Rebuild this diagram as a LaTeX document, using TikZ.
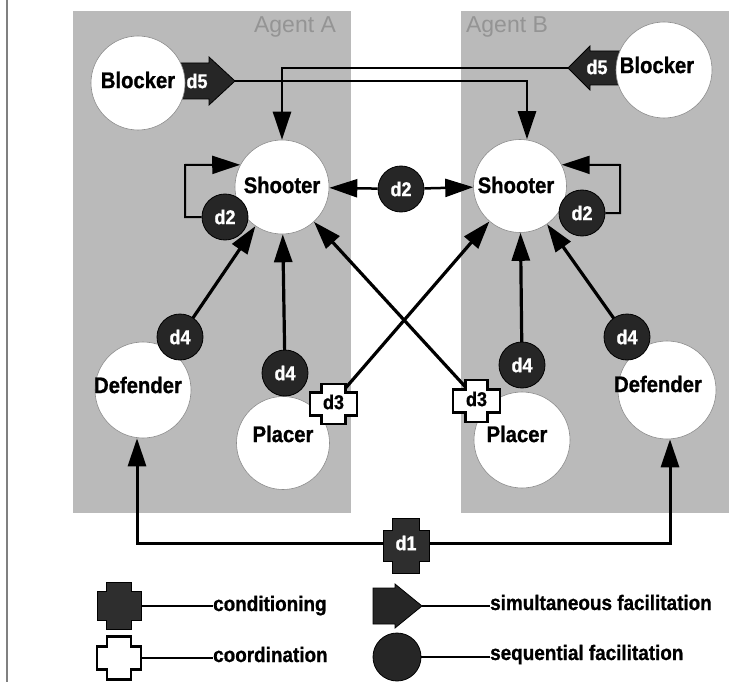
\documentclass[tikz,border=0pt]{standalone}
\usepackage{fontspec}
\newfontfamily\dfont{Liberation Sans}[FakeStretch=0.9,FakeBold=1]
\newfontfamily\agentfont{Liberation Sans}
\usetikzlibrary{arrows.meta}

\pgfdeclarelayer{panels}
\pgfdeclarelayer{wires}
\pgfsetlayers{panels,wires,main}

% plus-shaped marker: style, centre x, centre y, half width, half height,
% half width of the upright bar, half height of the cross bar
\newcommand\plusshape[7]{%
  \draw[#1] ({#2-#6},{#3-#5}) -- ({#2+#6},{#3-#5}) -- ({#2+#6},{#3-#7})
    -- ({#2+#4},{#3-#7}) -- ({#2+#4},{#3+#7}) -- ({#2+#6},{#3+#7})
    -- ({#2+#6},{#3+#5}) -- ({#2-#6},{#3+#5}) -- ({#2-#6},{#3+#7})
    -- ({#2-#4},{#3+#7}) -- ({#2-#4},{#3-#7}) -- ({#2-#6},{#3-#7}) -- cycle;}

\begin{document}
\begin{tikzpicture}[x=1pt,y=-1pt,
  panel/.style={fill=black!27, draw=none},
  agent/.style={font=\agentfont\fontsize{23}{24}\selectfont, text=black!42, inner sep=0pt},
  role/.style={circle, fill=white, draw=black!45, line width=0.6pt, inner sep=0pt},
  rolelabel/.style={font=\dfont\bfseries\fontsize{22.5}{24}\selectfont, inner sep=0pt},
  seqmark/.style={circle, fill=black!85, draw=black, line width=0.8pt, minimum size=46pt,
    inner sep=0pt, text=white, font=\dfont\bfseries\fontsize{20}{21}\selectfont},
  darkplus/.style={fill=black!82, draw=black, line width=1pt},
  whiteplus/.style={fill=white, draw=black, line width=2.2pt},
  simshape/.style={fill=black!85, draw=black, line width=0.8pt},
  plustext/.style={rectangle, inner sep=0pt, font=\dfont\bfseries\fontsize{20}{21}\selectfont},
  tip/.style={-{Triangle[length=28pt,width=18pt]}},
  link/.style={tip, line width=3.2pt},
  toplink/.style={tip, line width=2.6pt},
  looplink/.style={tip, line width=2pt},
  midlink/.style={tip, line width=2.5pt},
  legline/.style={line width=2pt},
  legtext/.style={font=\dfont\bfseries\fontsize{21}{23}\selectfont, inner sep=0pt, anchor=base west}
]
\useasboundingbox (0,0) rectangle (734,682);

% page rule at the left
\draw[black!50, line width=1.2pt] (7,0) -- (7,682);

% agent panels
\begin{pgfonlayer}{panels}
  \fill[panel] (73,11) rectangle (351,513);
  \fill[panel] (461,11) rectangle (729,513);
\end{pgfonlayer}
\node[agent] (agA) at (295,27) {Agent A};
\node[agent] (agB) at (507,27) {Agent B};

% simultaneous facilitation arrows of the blockers
\draw[simshape] (176,63) -- (209,63) -- (209,57) -- (235,81) -- (209,105) -- (209,99) -- (176,99) -- cycle;
\coordinate (d5aTip) at (235,81);
\draw[simshape] (632,51) -- (590,51) -- (590,46) -- (568,68) -- (590,90) -- (590,85) -- (632,85) -- cycle;
\coordinate (d5bTip) at (568,68);

% roles
\node[role, minimum size=94pt] (bA) at (138,83) {};
\node[role, minimum size=94pt] (sA) at (282,187) {};
\node[role, minimum size=96pt] (dA) at (143,390) {};
\node[role, minimum size=93pt] (pA) at (283,443) {};
\node[role, minimum size=96pt] (bB) at (664,70) {};
\node[role, minimum size=93pt] (sB) at (520,186) {};
\node[role, minimum size=96pt] (pB) at (522,440) {};
\node[role, minimum size=98pt] (dB) at (667,390) {};

\node[rolelabel] (bAl) at (138,80) {Blocker};
\node[rolelabel] (sAl) at (282,185) {Shooter};
\node[rolelabel] (dAl) at (138,385) {Defender};
\node[rolelabel] (pAl) at (283,434) {Placer};
\node[rolelabel] (bBl) at (657,65) {Blocker};
\node[rolelabel] (sBl) at (516,185) {Shooter};
\node[rolelabel] (pBl) at (517,434) {Placer};
\node[rolelabel] (dBl) at (658,384) {Defender};

% d5 labels on the arrows
\node[plustext, text=white] (d5a) at (197,81) {d5};
\node[plustext, text=white] (d5b) at (597,67) {d5};

% sequential facilitation markers
\node[seqmark] (d2a) at (225,217) {d2};
\node[seqmark] (d2m) at (401,189) {d2};
\node[seqmark] (d2b) at (582,213) {d2};
\node[seqmark] (d4a) at (180,337) {d4};
\node[seqmark] (d4p) at (285,373) {d4};
\node[seqmark] (d4q) at (522,365) {d4};
\node[seqmark] (d4b) at (627,337) {d4};

% coordination markers
\plusshape{whiteplus}{333.5}{404}{23.5}{20}{12}{11.5}
\node[plustext, minimum width=47pt, minimum height=40pt] (d3a) at (333.5,402) {d3};
\plusshape{whiteplus}{476.5}{401}{23.5}{21}{11}{11.5}
\node[plustext, minimum width=47pt, minimum height=42pt] (d3b) at (476.5,399) {d3};

% conditioning marker
\plusshape{darkplus}{406}{546}{23}{27.5}{13.5}{15.5}
\node[plustext, text=white, minimum width=46pt, minimum height=55pt] (d1) at (406,543) {d1};

% connectors
\begin{pgfonlayer}{wires}
  \draw[toplink] (d5aTip) -| ([xshift=7pt]sB.north);
  \draw[toplink] (d5bTip) -| (sA.north);
  \coordinate (loopA) at (185,165);
  \coordinate (loopB) at (620,165);
  \draw[looplink] (d2a.west) -| (loopA) -- (sA.152);
  \draw[looplink] (d2b.east) -| (loopB) -- (sB.27);
  \draw[midlink] (d2m) -- (sA);
  \draw[midlink] (d2m) -- (sB);
  \draw[link] (d4a.center) -- (sA);
  \draw[link] (d4p.center) -- (sA);
  \draw[link] (d3b.center) -- (sA);
  \draw[link] (d3a.center) -- (sB);
  \draw[link] (d4q.center) -- (sB);
  \draw[link] (d4b.center) -- (sB);
  \draw[link, line width=3pt] (d1.center) -| ([xshift=-6pt]dA.south);
  \draw[link, line width=3pt] (d1.center) -| ([xshift=3pt]dB.south);
\end{pgfonlayer}

% legend
\plusshape{darkplus}{119}{606}{22}{23.5}{12.5}{14.5}
\node[plustext, minimum width=44pt, minimum height=47pt] (legCond) at (119,606) {};
\plusshape{whiteplus}{119}{658}{22}{21.5}{12}{11.5}
\node[plustext, minimum width=44pt, minimum height=43pt] (legCoord) at (119,658) {};
\draw[simshape] (373,588) -- (395,588) -- (395,584) -- (422,606) -- (395,628) -- (395,624) -- (373,624) -- cycle;
\coordinate (legSim) at (422,606);
\node[seqmark, minimum size=48pt] (legSeq) at (397,657) {};

\node[legtext] (tCond) at (213,611) {conditioning};
\node[legtext] (tCoord) at (213,662) {coordination};
\node[legtext] (tSim) at (490,610) {simultaneous facilitation};
\node[legtext] (tSeq) at (490,660) {sequential facilitation};

\draw[legline] (legCond.east) -- (legCond.east -| tCond.west);
\draw[legline] (legCoord.east) -- (legCoord.east -| tCoord.west);
\draw[legline] (legSim) -- (legSim -| tSim.west);
\draw[legline] (legSeq.east) -- (legSeq.east -| tSeq.west);
\end{tikzpicture}
\end{document}
